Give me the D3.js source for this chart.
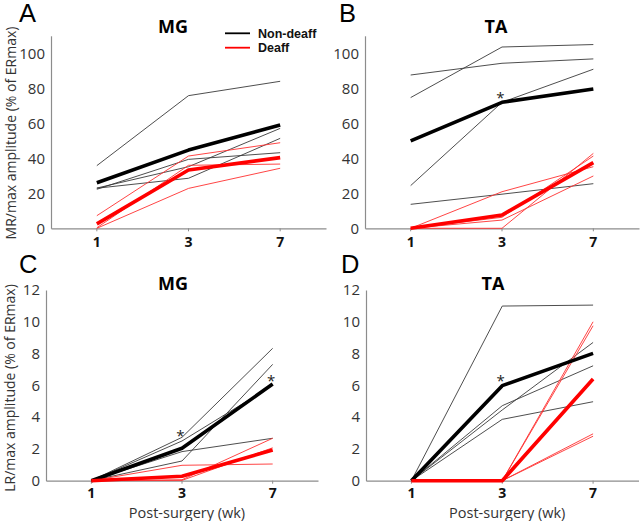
<!DOCTYPE html>
<html>
<head>
<meta charset="utf-8">
<script src="https://cdn.jsdelivr.net/npm/d3@7"></script>
<style>
  html, body { margin: 0; padding: 0; background: #fff; }
  svg { display: block; }
</style>
</head>
<body>
<svg id="chart" width="640" height="521"></svg>
<script>
// ---------------- DATA ----------------
const weeks = ["1", "3", "7"];
const seriesNames = ["Non-deaff", "Deaff"];

// Panel A: MG, MR/max amplitude (% of ERmax)
const mrMG_nonDeaffMean = [26.0, 44.7, 59.0];
const mrMG_nonDeaffAnimals = [
  [35.8, 75.8, 84.0],
  [22.9, 28.6, 51.4],
  [22.3, 39.4, 43.2],
  [23.0, 35.2, 57.1]
];
const mrMG_deaffMean = [2.5, 33.3, 40.4];
const mrMG_deaffAnimals = [
  [7.2, 41.3, 48.9],
  [0.0, 22.8, 34.3],
  [0.3, 36.0, 36.7]
];
const mrMG_sig = [];

// Panel B: TA, MR/max amplitude
const mrTA_nonDeaffMean = [50.0, 72.0, 79.6];
const mrTA_nonDeaffAnimals = [
  [87.6, 94.3, 96.8],
  [74.7, 103.6, 105.0],
  [24.4, 72.0, 90.9],
  [13.7, 19.5, 25.5]
];
const mrTA_deaffMean = [0.0, 7.6, 37.5];
const mrTA_deaffAnimals = [
  [0.0, 20.9, 35.2],
  [0.0, 6.3, 41.3],
  [0.0, 4.7, 29.9],
  [0.0, 0.0, 42.8]
];
const mrTA_sig = [{ week: "3", value: 75.8 }];

// Panel C: MG, LR/max amplitude
const lrMG_nonDeaffMean = [0.0, 2.04, 6.08];
const lrMG_nonDeaffAnimals = [
  [0.0, 2.73, 8.33],
  [0.0, 2.50, 6.00],
  [0.0, 1.83, 2.67],
  [0.0, 1.24, 7.32]
];
const lrMG_deaffMean = [0.0, 0.28, 1.93];
const lrMG_deaffAnimals = [
  [0.0, 0.97, 1.05],
  [0.0, 0.06, 2.67],
  [0.0, 0.02, 2.07]
];
const lrMG_sig = [{ week: "3", value: 2.94 }, { week: "7", value: 6.40 }];

// Panel D: TA, LR/max amplitude
const lrTA_nonDeaffMean = [0.0, 5.98, 8.01];
const lrTA_nonDeaffAnimals = [
  [0.0, 10.99, 11.05],
  [0.0, 4.72, 7.23],
  [0.0, 4.45, 8.70],
  [0.0, 3.86, 4.97]
];
const lrTA_deaffMean = [0.0, 0.0, 6.40];
const lrTA_deaffAnimals = [
  [0.0, 0.0, 10.00],
  [0.0, 0.0, 9.75],
  [0.0, 0.0, 2.95],
  [0.0, 0.0, 2.80]
];
const lrTA_sig = [{ week: "3", value: 6.38 }];

const mrTicks = [0, 20, 40, 60, 80, 100];
const lrTicks = [0, 2, 4, 6, 8, 10, 12];
const panelLetters = ["A", "B", "C", "D"];
const muscleTitles = ["MG", "TA", "MG", "TA"];
const yAxisTitles = ["MR/max amplitude (% of ERmax)", "LR/max amplitude (% of ERmax)"];
const xAxisTitle = "Post-surgery (wk)";

// ---------------- DRAWING ----------------
const svg = d3.select("#chart");
const TICK_FONT = "'Open Sans', 'DejaVu Sans', sans-serif";
const AXIS_COLOR = "#8c8c8c";

const panels = [
  { letter: panelLetters[0], title: muscleTitles[0], xr: [51, 326], yr: [228.3, 35.8], yd: [0, 110], ticks: mrTicks,
    nd: mrMG_nonDeaffAnimals, ndm: mrMG_nonDeaffMean, d: mrMG_deaffAnimals, dm: mrMG_deaffMean, sig: mrMG_sig,
    lx: 19, ly: 21.5, tx: 173, ty: 33, legend: true, xpad: 6 },
  { letter: panelLetters[1], title: muscleTitles[1], xr: [365, 639], yr: [228.3, 35.8], yd: [0, 110], ticks: mrTicks,
    nd: mrTA_nonDeaffAnimals, ndm: mrTA_nonDeaffMean, d: mrTA_deaffAnimals, dm: mrTA_deaffMean, sig: mrTA_sig,
    lx: 339, ly: 21.5, tx: 496, ty: 33, xpad: 6 },
  { letter: panelLetters[2], title: muscleTitles[2], xr: [46, 318], yr: [480.7, 290], yd: [0, 12], ticks: lrTicks,
    nd: lrMG_nonDeaffAnimals, ndm: lrMG_nonDeaffMean, d: lrMG_deaffAnimals, dm: lrMG_deaffMean, sig: lrMG_sig,
    lx: 19, ly: 272.5, tx: 173, ty: 289.5, xtitle: true, xpad: 4.5 },
  { letter: panelLetters[3], title: muscleTitles[3], xr: [366, 638.5], yr: [480.7, 290], yd: [0, 12], ticks: lrTicks,
    nd: lrTA_nonDeaffAnimals, ndm: lrTA_nonDeaffMean, d: lrTA_deaffAnimals, dm: lrTA_deaffMean, sig: lrTA_sig,
    lx: 341, ly: 272.5, tx: 493, ty: 289.5, xtitle: true, xpad: 4.5 }
];

panels.forEach(p => {
  const x = d3.scaleBand().domain(weeks).range(p.xr);
  const y = d3.scaleLinear().domain(p.yd).range(p.yr);
  const g = svg.append("g");
  const cx = w => x(w) + x.bandwidth() / 2;

  // y axis
  const yAx = g.append("g").attr("transform", `translate(${p.xr[0]},0)`)
    .call(d3.axisLeft(y).tickValues(p.ticks).tickSize(0).tickSizeOuter(0).tickPadding(6));
  yAx.select(".domain").attr("stroke", AXIS_COLOR).attr("stroke-width", 1.2);
  yAx.selectAll("text").attr("font-family", TICK_FONT).attr("font-size", 15).attr("fill", "#333");

  // x axis
  const xAx = g.append("g").attr("transform", `translate(0,${p.yr[0]})`)
    .call(d3.axisBottom(x).tickSize(3).tickSizeOuter(0).tickPadding(p.xpad));
  xAx.select(".domain").attr("stroke", AXIS_COLOR).attr("stroke-width", 1.2);
  xAx.selectAll(".tick line").attr("stroke", AXIS_COLOR);
  xAx.selectAll("text").attr("font-family", TICK_FONT).attr("font-size", 14)
    .attr("font-weight", "bold").attr("fill", "#111");

  const line = d3.line().x((v, i) => cx(weeks[i])).y(v => y(v));

  // thin individual lines
  g.selectAll(".ndThin").data(p.nd).join("path")
    .attr("d", line).attr("fill", "none").attr("stroke", "#3a3a3a").attr("stroke-width", 0.9);
  g.selectAll(".dThin").data(p.d).join("path")
    .attr("d", line).attr("fill", "none").attr("stroke", "#ff3030").attr("stroke-width", 0.9);

  // means
  g.append("path").datum(p.ndm).attr("d", line).attr("fill", "none")
    .attr("stroke", "#000").attr("stroke-width", 3.6).attr("stroke-linejoin", "round");
  g.append("path").datum(p.dm).attr("d", line).attr("fill", "none")
    .attr("stroke", "#ff0000").attr("stroke-width", 3.6).attr("stroke-linejoin", "round");

  // significance asterisks
  g.selectAll(".sig").data(p.sig).join("text")
    .attr("x", s => cx(s.week) - 1.5).attr("y", s => y(s.value) + 7)
    .attr("text-anchor", "middle").attr("font-family", TICK_FONT)
    .attr("font-size", 15).attr("fill", "#222").text("*");

  // panel letter
  svg.append("text").attr("x", p.lx).attr("y", p.ly)
    .attr("font-family", "'Liberation Sans', Arial, sans-serif").attr("font-size", 25.5)
    .attr("fill", "#000").text(p.letter);

  // title
  svg.append("text").attr("x", p.tx).attr("y", p.ty).attr("text-anchor", "middle")
    .attr("font-family", TICK_FONT).attr("font-size", 18).attr("font-weight", "bold")
    .attr("fill", "#000").text(p.title);

  if (p.xtitle) {
    svg.append("text").attr("x", (p.xr[0] + p.xr[1]) / 2 + 5).attr("y", 518)
      .attr("text-anchor", "middle").attr("font-family", TICK_FONT).attr("font-size", 14.5)
      .attr("fill", "#333").text(xAxisTitle);
  }

  if (p.legend) {
    const lg = svg.append("g");
    const colors = ["#000", "#ff0000"];
    seriesNames.forEach((name, i) => {
      const yy = 33.3 + i * 14.4;
      lg.append("line").attr("x1", 225).attr("x2", 250).attr("y1", yy).attr("y2", yy)
        .attr("stroke", colors[i]).attr("stroke-width", 1.8);
      lg.append("text").attr("x", 258).attr("y", yy + 4.5)
        .attr("font-family", "'Liberation Sans', Arial, sans-serif").attr("font-size", 12.5)
        .attr("font-weight", "bold").attr("fill", "#111").text(name);
    });
  }
});

// y axis titles
svg.append("text").attr("transform", "translate(16,133) rotate(-90)")
  .attr("text-anchor", "middle").attr("font-family", TICK_FONT).attr("font-size", 14)
  .attr("fill", "#333").text(yAxisTitles[0]);
svg.append("text").attr("transform", "translate(15,388) rotate(-90)")
  .attr("text-anchor", "middle").attr("font-family", TICK_FONT).attr("font-size", 14)
  .attr("fill", "#333").text(yAxisTitles[1]);
</script>
</body>
</html>
